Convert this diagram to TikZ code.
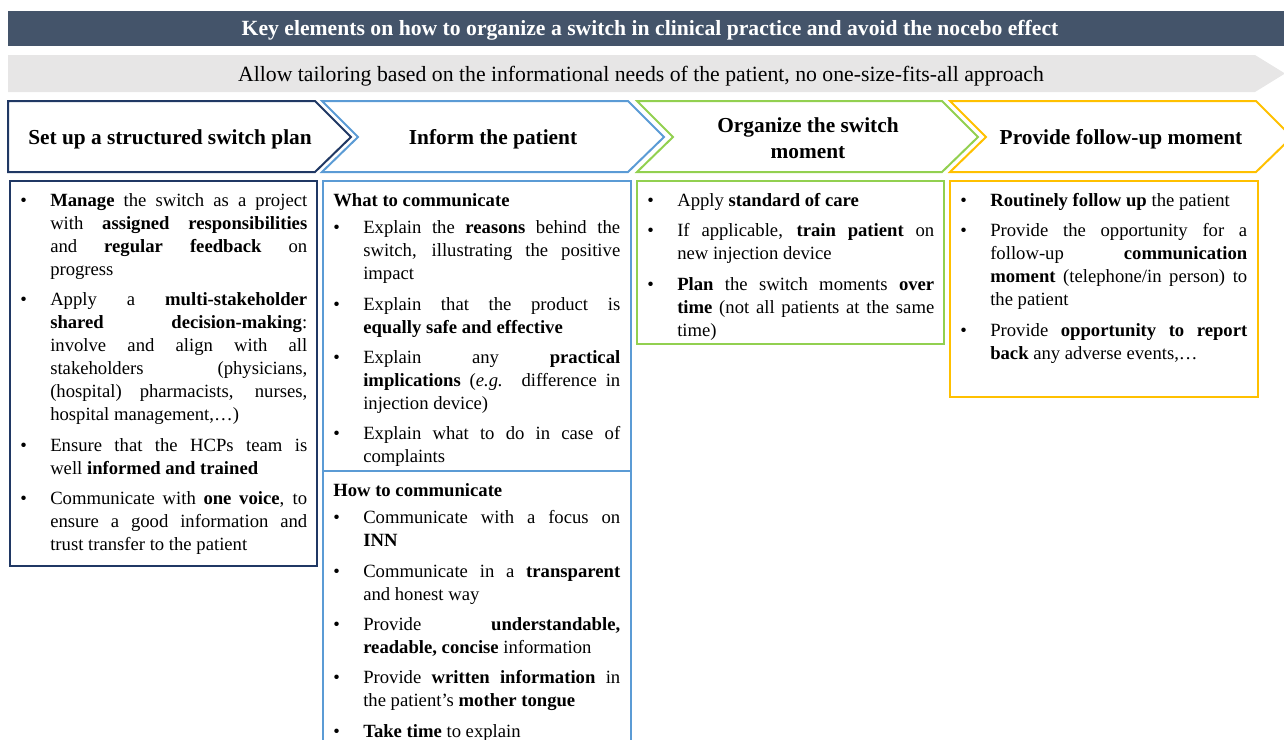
\documentclass[tikz,border=0pt]{standalone}
\usepackage{fontspec}
\setmainfont{Liberation Serif}
\usetikzlibrary{positioning}

\definecolor{slate}{HTML}{44546A}
\definecolor{bandgray}{HTML}{E7E6E6}
\definecolor{navy}{HTML}{203864}
\definecolor{skyblue}{HTML}{5B9BD5}
\definecolor{leafgreen}{HTML}{92D050}
\definecolor{amber}{HTML}{FFC000}

\hyphenpenalty=10000
\exhyphenpenalty=10000
\tolerance=10000

\newenvironment{pointlist}[1][0pt]{%
  \begin{list}{\textbullet}{%
    \setlength{\leftmargin}{22.5pt}%
    \setlength{\labelwidth}{22.5pt}%
    \setlength{\labelsep}{0pt}%
    \setlength{\itemindent}{0pt}%
    \setlength{\itemsep}{5.6pt}%
    \setlength{\parsep}{0pt}%
    \setlength{\topsep}{#1}%
    \setlength{\partopsep}{0pt}%
    \renewcommand{\makelabel}[1]{##1\hfil}}}%
  {\end{list}}

\tikzset{
  headtext/.style={font=\fontsize{16}{19.5}\selectfont\bfseries, align=center, inner sep=0pt},
  bodytext/.style={anchor=north west, inner xsep=7.5pt, inner ysep=9.25pt, text width=215.25pt,
    align=justify, font=\fontsize{14}{17.25}\selectfont},
  listtext/.style={bodytext, inner ysep=1.6pt},
  chevron/.style={line width=1.5pt, line join=miter},
  panel/.style={line width=1.5pt}
}

\begin{document}
\begin{tikzpicture}[x=0.75pt,y=-0.75pt]
\useasboundingbox (0,0) rectangle (1284,739);
\clip (0,0) rectangle (1284,739);

\fill[slate] (8,11) rectangle (1284,46);
\node[font=\fontsize{16.25}{19.5}\selectfont\bfseries, text=white, inner sep=0pt] (title) at (650,30.5)
  {Key elements on how to organize a switch in clinical practice and avoid the nocebo effect};

\fill[bandgray] (8,55) -- (1255,55) -- (1285,73.5) -- (1255,92) -- (8,92) -- cycle;
\node[font=\fontsize{16.3}{19.5}\selectfont, inner sep=0pt] (tailor) at (641,76)
  {Allow tailoring based on the informational needs of the patient, no one-size-fits-all approach};

\draw[chevron, navy] (8,101) -- (315,101) -- (351,137) -- (315,172) -- (8,172) -- cycle;
\draw[chevron, skyblue] (322,101) -- (628,101) -- (664,137) -- (628,172) -- (322,172) -- (358,137) -- cycle;
\draw[chevron, leafgreen] (637,101) -- (942,101) -- (978,137) -- (942,172) -- (637,172) -- (673,137) -- cycle;
\draw[chevron, amber] (950,101) -- (1256,101) -- (1292,137) -- (1256,172) -- (950,172) -- (986,137) -- cycle;

\node[headtext] (plan) at (170,139.5) {Set up a structured switch plan};
\node[headtext] (inform) at (493,139.5) {Inform the patient};
\node[headtext] (organize) at (808,138) {Organize the switch\\moment};
\node[headtext] (followup) at (1121,139.5) {Provide follow-up moment};

\draw[panel, navy] (10,181) rectangle (317,566);
\draw[panel, skyblue] (323,181) rectangle (631,760);
\draw[panel, skyblue] (323,471) -- (631,471);
\draw[panel, leafgreen] (637,181) rectangle (944,344);
\draw[panel, amber] (950,181) rectangle (1258,397);

\node[listtext] (plantext) at (10,181) {%
\begin{pointlist}
\item \textbf{Manage} the switch as a project\linebreak with \textbf{assigned responsibilities}\linebreak and \textbf{regular feedback} on\linebreak progress
\item Apply a \textbf{multi-stakeholder}\linebreak \textbf{shared decision-making}:\linebreak involve and align with all\linebreak stakeholders (physicians,\linebreak (hospital) pharmacists, nurses,\linebreak hospital management,…)
\item Ensure that the HCPs team is\linebreak well \textbf{informed and trained}
\item Communicate with \textbf{one voice}, to\linebreak ensure a good information and\linebreak trust transfer to the patient
\end{pointlist}};

\node[bodytext] (whattext) at (323,181) {%
\textbf{What to communicate}
\begin{pointlist}[3pt]
\item Explain the \textbf{reasons} behind the\linebreak switch, illustrating the positive\linebreak impact
\item Explain that the product is\linebreak \textbf{equally safe and effective}
\item Explain any \textbf{practical}\linebreak \textbf{implications} (\textit{e.g.} difference in\linebreak injection device)
\item Explain what to do in case of\linebreak complaints
\end{pointlist}};

\node[bodytext] (howtext) at (323,471) {%
\textbf{How to communicate}
\begin{pointlist}[3pt]
\item Communicate with a focus on\linebreak \textbf{INN}
\item Communicate in a \textbf{transparent}\linebreak and honest way
\item Provide \textbf{understandable,}\linebreak \textbf{readable, concise} information
\item Provide \textbf{written information} in\linebreak the patient's \textbf{mother tongue}
\item \textbf{Take time} to explain
\end{pointlist}};

\node[listtext] (organizetext) at (637,181) {%
\begin{pointlist}
\item Apply \textbf{standard of care}
\item If applicable, \textbf{train patient} on\linebreak new injection device
\item \textbf{Plan} the switch moments \textbf{over}\linebreak \textbf{time} (not all patients at the same\linebreak time)
\end{pointlist}};

\node[listtext] (followuptext) at (950,181) {%
\begin{pointlist}
\item \textbf{Routinely follow up} the patient
\item Provide the opportunity for a\linebreak follow-up \textbf{communication}\linebreak \textbf{moment} (telephone/in person) to\linebreak the patient
\item Provide \textbf{opportunity to report}\linebreak \textbf{back} any adverse events,…
\end{pointlist}};
\end{tikzpicture}
\end{document}
